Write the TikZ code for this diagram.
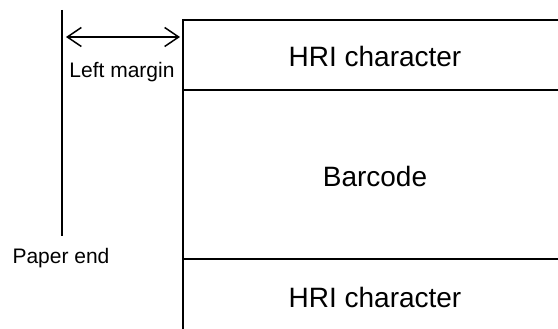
\documentclass[tikz,border=0pt]{standalone}
\usepackage{fontspec}
\setmainfont{Liberation Sans}
\usetikzlibrary{arrows.meta}
\tikzset{
  edge/.style={line width=2pt, line cap=rect},
  small/.style={font=\fontsize{21}{25}\selectfont, inner sep=0pt, anchor=base},
  big/.style={font=\fontsize{28}{33}\selectfont, inner sep=0pt, anchor=base},
  dim/.style={line width=1.5pt, {Straight Barb[length=14pt,width=19pt,line width=1.5pt]}-{Straight Barb[length=14pt,width=19pt,line width=1.5pt]}}
}
\begin{document}
\begin{tikzpicture}[x=1pt,y=-1pt]
\useasboundingbox (0,0) rectangle (558,329);
% paper end line
\coordinate (pe1) at (62,10);
\coordinate (pe2) at (62,236);
\draw[edge, line cap=butt] (pe1) -- (pe2);
% label block
\coordinate (tl) at (183,20);
\coordinate (tr) at (570,20);
\coordinate (bl) at (183,340);
\coordinate (m1l) at (183,90);
\coordinate (m1r) at (570,90);
\coordinate (m2l) at (183,259);
\coordinate (m2r) at (570,259);
\draw[edge] (tr) -- (tl) -- (bl);
\draw[edge] (m1l) -- (m1r);
\draw[edge] (m2l) -- (m2r);
% margin arrow
\coordinate (a1) at (66,37);
\coordinate (a2) at (180,37);
\draw[dim] (a1) -- (a2);
% texts
\node[small] (lm) at (122,78) {Left margin};
\node[small] (pe) at (61,263) {Paper end};
\node[big] (hri1) at (375,67) {HRI character};
\node[big] (bc) at (375,186) {Barcode};
\node[big] (hri2) at (375,307) {HRI character};
\end{tikzpicture}
\end{document}
